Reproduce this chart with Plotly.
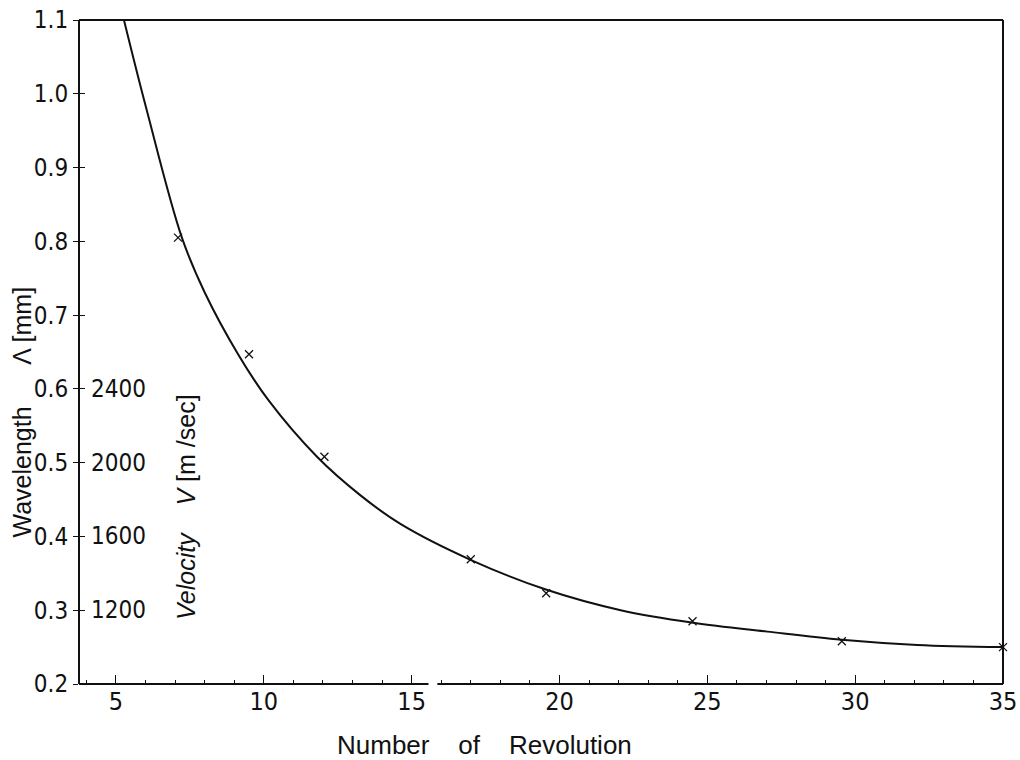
import plotly.graph_objects as go

# ---- data ----
curve_n = [5.27, 6.04, 7.23, 8.01, 9.13, 10.15, 11.8, 13.26, 14.62, 17.01,
           19.54, 22.07, 24.52, 27.03, 29.54, 32.1, 35.0]
curve_lambda = [1.10, 0.978, 0.805, 0.730, 0.647, 0.585, 0.508, 0.456, 0.417, 0.368,
                0.328, 0.300, 0.283, 0.271, 0.260, 0.253, 0.250]

point_n = [7.1, 9.5, 12.05, 17.0, 19.55, 24.5, 29.55, 35.0]
point_lambda = [0.805, 0.647, 0.508, 0.369, 0.323, 0.285, 0.258, 0.250]

x_ticks = [5, 10, 15, 20, 25, 30, 35]
y_ticks = [0.2, 0.3, 0.4, 0.5, 0.6, 0.7, 0.8, 0.9, 1.0, 1.1]
y_tick_text = ["0.2", "0.3", "0.4", "0.5", "0.6", "0.7", "0.8", "0.9", "1.0", "1.1"]
v_tick_pos = [0.3, 0.4, 0.5, 0.6]
v_tick_text = ["1200", "1600", "2000", "2400"]

X_RANGE = [3.75, 35.0]
Y_RANGE = [0.2, 1.1]
AXIS_GAP = [15.57, 15.87]

NARROW = "Liberation Sans Narrow, DejaVu Sans Condensed, Arial Narrow, Liberation Sans, sans-serif"
WIDE = "Liberation Sans, Arial, sans-serif"
INK = "#111111"

fig = go.Figure()

fig.add_trace(go.Scatter(
    x=curve_n, y=curve_lambda, mode="lines",
    line=dict(color=INK, width=2, shape="spline", smoothing=1.0),
    showlegend=False, hoverinfo="skip"))

fig.add_trace(go.Scatter(
    x=point_n, y=point_lambda, mode="markers",
    marker=dict(symbol="x-thin", size=8, line=dict(color=INK, width=1.3)),
    showlegend=False, cliponaxis=False))

# frame lines (bottom axis has a break as in the original)
line_style = dict(color=INK, width=2)
fig.add_shape(type="line", xref="paper", yref="paper", x0=0, x1=0, y0=0, y1=1, line=line_style)
fig.add_shape(type="line", xref="paper", yref="paper", x0=0, x1=1, y0=1, y1=1, line=line_style)
fig.add_shape(type="line", xref="paper", yref="paper", x0=1, x1=1, y0=0, y1=1, line=line_style)
fig.add_shape(type="line", xref="x", yref="paper", x0=X_RANGE[0], x1=AXIS_GAP[0],
              y0=0, y1=0, line=line_style)
fig.add_shape(type="line", xref="x", yref="paper", x0=AXIS_GAP[1], x1=X_RANGE[1],
              y0=0, y1=0, line=line_style)

fig.update_layout(
    width=1020, height=760,
    margin=dict(l=79, r=17, t=20, b=76),
    paper_bgcolor="white", plot_bgcolor="white",
    font=dict(family=NARROW, color=INK),
    xaxis=dict(range=X_RANGE, showgrid=False, zeroline=False, showline=False, automargin=False,
               tickvals=x_ticks, ticks="inside", ticklen=9, tickwidth=1.2, tickcolor=INK,
               tickfont=dict(size=25, family=NARROW),
               minor=dict(dtick=1, tick0=0, ticks="inside", ticklen=4, tickwidth=1, tickcolor=INK)),
    yaxis=dict(range=Y_RANGE, showgrid=False, zeroline=False, showline=False, automargin=False,
               tickvals=y_ticks, ticktext=y_tick_text, ticks="outside", ticklen=5,
               tickwidth=1.2, tickcolor=INK, tickfont=dict(size=24, family=NARROW)),
    yaxis2=dict(range=Y_RANGE, overlaying="y", side="left", showgrid=False, zeroline=False,
                showline=False, automargin=False, tickvals=y_ticks, showticklabels=False,
                ticks="inside", ticklen=6, tickwidth=1.2, tickcolor=INK),
)

# dummy trace so the overlay axis is rendered
fig.add_trace(go.Scatter(x=[None], y=[None], yaxis="y2", showlegend=False))

# secondary (velocity) scale labels, placed at their axis values
for pos, txt in zip(v_tick_pos, v_tick_text):
    fig.add_annotation(text=txt, xref="paper", yref="y", x=0.011, y=pos,
                       xanchor="left", yanchor="middle", showarrow=False,
                       font=dict(size=24, family=NARROW))

fig.add_annotation(text="Number&nbsp;&nbsp;&nbsp;&nbsp;of&nbsp;&nbsp;&nbsp;&nbsp;Revolution",
                   xref="paper", yref="paper", x=0.439, y=-0.092, xanchor="center",
                   yanchor="middle", showarrow=False,
                   font=dict(size=26, family=WIDE))

fig.add_annotation(text="Wavelength&nbsp;&nbsp;&nbsp;&nbsp;&nbsp;&nbsp;Λ [mm]",
                   xref="paper", yref="paper", x=-0.062, y=0.41, textangle=-90,
                   xanchor="center", yanchor="middle", showarrow=False,
                   font=dict(size=25, family=WIDE))

fig.add_annotation(text="<i>Velocity</i>&nbsp;&nbsp;&nbsp;&nbsp;<i>V</i> [m /sec]",
                   xref="paper", yref="paper", x=0.115, y=0.267, textangle=-90,
                   xanchor="center", yanchor="middle", showarrow=False,
                   font=dict(size=25, family=WIDE))

# remove the default page margin so the figure fills the window exactly
fig.write_html("out.html", config={"displayModeBar": False},
               post_script="document.body.style.margin='0';document.body.style.overflow='hidden';")
